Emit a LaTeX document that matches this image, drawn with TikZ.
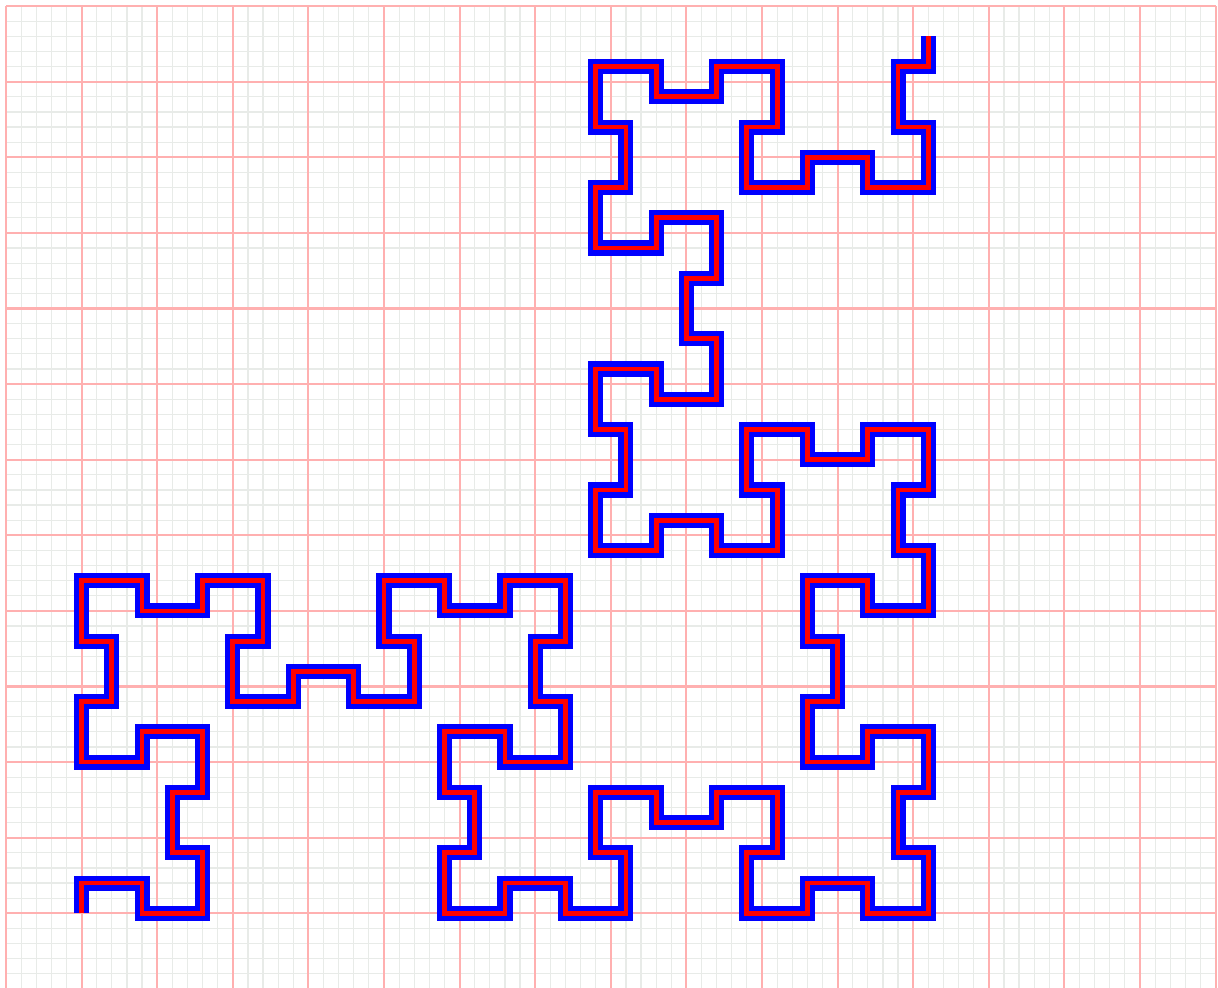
\documentclass[tikz,border=0pt]{standalone}
\definecolor{minorgrid}{RGB}{232,235,232}
\definecolor{majorgrid}{RGB}{255,176,176}
\tikzset{
  minorlines/.style={draw=minorgrid, line width=0.45pt},
  majorlines/.style={draw=majorgrid, line width=0.8pt},
  curveline/.style={draw=blue, line width=0.2cm, line join=miter, line cap=butt,
    postaction={draw=red, line width=1.8pt, line join=miter}}
}
\begin{document}
\begin{tikzpicture}
\useasboundingbox (-0.0794,0.014) rectangle (16.032,13.081);
\fill[white] (-0.0794,0.014) rectangle (16.032,13.081);
\foreach \i in {1,...,79} {
  \pgfmathtruncatemacro{\r}{mod(\i,5)}
  \ifnum\r>0 \draw[minorlines] (\i*0.2,0) -- (\i*0.2,13); \fi
}
\foreach \j in {1,...,64} {
  \pgfmathtruncatemacro{\r}{mod(\j,5)}
  \ifnum\r>0 \draw[minorlines] (0,\j*0.2) -- (16,\j*0.2); \fi
}
\draw[majorlines] (0,0) grid[step=1] (16,13);
\begin{scope}[shift={(1,1)}, scale=0.4]
\path[curveline] (0,0) -- (0,1) -- (2,1) -- (2,0) -- (4,0) -- (4,2) -- (3,2) -- (3,4) -- (4,4) -- (4,6) -- (2,6) -- (2,5) -- (0,5) -- (0,7) -- (1,7) -- (1,9) -- (0,9) -- (0,11) -- (2,11) -- (2,10) -- (4,10) -- (4,11) -- (6,11) -- (6,9) -- (5,9) -- (5,7) -- (7,7) -- (7,8) -- (9,8) -- (9,7) -- (11,7) -- (11,9) -- (10,9) -- (10,11) -- (12,11) -- (12,10) -- (14,10) -- (14,11) -- (16,11) -- (16,9) -- (15,9) -- (15,7) -- (16,7) -- (16,5) -- (14,5) -- (14,6) -- (12,6) -- (12,4) -- (13,4) -- (13,2) -- (12,2) -- (12,0) -- (14,0) -- (14,1) -- (16,1) -- (16,0) -- (18,0) -- (18,2) -- (17,2) -- (17,4) -- (19,4) -- (19,3) -- (21,3) -- (21,4) -- (23,4) -- (23,2) -- (22,2) -- (22,0) -- (24,0) -- (24,1) -- (26,1) -- (26,0) -- (28,0) -- (28,2) -- (27,2) -- (27,4) -- (28,4) -- (28,6) -- (26,6) -- (26,5) -- (24,5) -- (24,7) -- (25,7) -- (25,9) -- (24,9) -- (24,11) -- (26,11) -- (26,10) -- (28,10) -- (28,12) -- (27,12) -- (27,14) -- (28,14) -- (28,16) -- (26,16) -- (26,15) -- (24,15) -- (24,16) -- (22,16) -- (22,14) -- (23,14) -- (23,12) -- (21,12) -- (21,13) -- (19,13) -- (19,12) -- (17,12) -- (17,14) -- (18,14) -- (18,16) -- (17,16) -- (17,18) -- (19,18) -- (19,17) -- (21,17) -- (21,19) -- (20,19) -- (20,21) -- (21,21) -- (21,23) -- (19,23) -- (19,22) -- (17,22) -- (17,24) -- (18,24) -- (18,26) -- (17,26) -- (17,28) -- (19,28) -- (19,27) -- (21,27) -- (21,28) -- (23,28) -- (23,26) -- (22,26) -- (22,24) -- (24,24) -- (24,25) -- (26,25) -- (26,24) -- (28,24) -- (28,26) -- (27,26) -- (27,28) -- (28,28) -- (28,29);
\end{scope}
\end{tikzpicture}
\end{document}
